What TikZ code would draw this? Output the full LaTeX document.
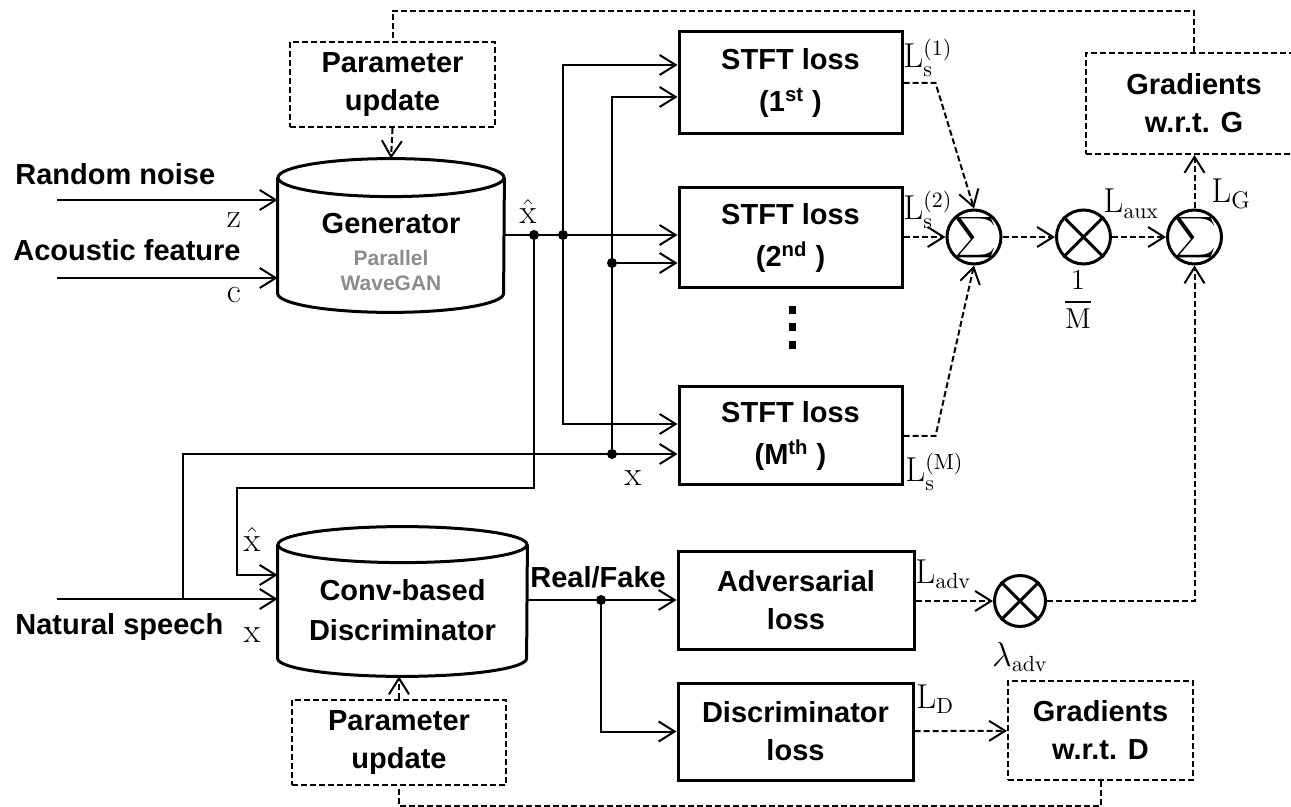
\documentclass[tikz,border=0pt]{standalone}
\usepackage[no-math]{fontspec}
\setmainfont{Liberation Sans}
\usepackage{amsmath}
\usetikzlibrary{arrows.meta}
\newcommand{\bfont}{\fontsize{14.5}{19}\selectfont\bfseries}
\newcommand{\sfont}{\fontsize{14.5}{21}\selectfont\bfseries}
\newcommand{\gfont}{\fontsize{10.5}{12.5}\selectfont\bfseries}
\newcommand{\mfont}{\fontsize{16}{18}\selectfont}
\tikzstyle{blk}=[rectangle, draw=black, line width=1.5pt, align=center, inner sep=0pt, font=\bfont]
\tikzstyle{dblk}=[rectangle, draw=black, line width=1pt, dash pattern=on 3pt off 1.5pt, align=center, inner sep=0pt, font=\bfont]
\tikzstyle{drum}=[rectangle, inner sep=0pt]
\tikzstyle{txt}=[align=center, inner sep=0pt, font=\bfont]
\tikzstyle{op}=[circle, draw=black, line width=1.5pt, inner sep=0pt, minimum size=27pt]
\tikzstyle{dot}=[circle, inner sep=0pt, minimum size=5pt, fill=black]
\tikzstyle{sq}=[rectangle, inner sep=0pt, minimum width=3.5pt, minimum height=4pt, fill=black]
\tikzstyle{lbl}=[inner sep=0pt, font=\mfont]
\tikzstyle{conn}=[line width=1pt, -{Straight Barb[length=8pt,width=10pt]}]
\tikzstyle{dconn}=[conn, dash pattern=on 3pt off 1.5pt]

\begin{document}
\begin{tikzpicture}[x=0.5pt, y=-0.5pt]
      \useasboundingbox (0,0) rectangle (1291,807);

      \node[dblk, minimum width=102.5pt, minimum height=42.5pt] (pg) at (392.5,84.5) {Parameter\\update};
      \node[drum, minimum width=113pt, minimum height=76.5pt] (gen) at (391,235.5) {};
      \node[txt] (gent) at (391,224) {Generator};
      \node[txt, font=\gfont, text=black!45] (genw) at (391,270) {Parallel\\WaveGAN};

      \node[txt, anchor=west] (rn) at (15,174) {Random noise};
      \node[txt, anchor=west] (af) at (13,250) {Acoustic feature};
      \node[txt, anchor=west] (ns) at (15,627) {Natural speech};

      \node[blk, font=\sfont, minimum width=111.5pt, minimum height=51pt] (s1) at (790.5,83) {STFT loss\\(1\textsuperscript{st} )};
      \node[blk, font=\sfont, minimum width=111.5pt, minimum height=50pt] (s2) at (790.5,238) {STFT loss\\(2\textsuperscript{nd} )};
      \node[blk, font=\sfont, minimum width=111.5pt, minimum height=49pt] (sm) at (790.5,436) {STFT loss\\(M\textsuperscript{th} )};
      \node[sq] (v1) at (792,310) {};
      \node[sq] (v2) at (792,327) {};
      \node[sq] (v3) at (792,345) {};

      \node[op] (sum1) at (974,237) {};
      \node[op] (mul1) at (1083.5,237) {};
      \node[op] (sum2) at (1194.5,237) {};
      \node[lbl, font=\fontsize{14}{16}\selectfont] (sg1) at (975,238) {$\displaystyle\sum$};
      \node[lbl, font=\fontsize{14}{16}\selectfont] (sg2) at (1195.5,238) {$\displaystyle\sum$};
      \node[dblk, minimum width=108pt, minimum height=50.5pt] (gg) at (1194,103.5) {Gradients\\w.r.t. G};

      \node[drum, minimum width=124.5pt, minimum height=74.5pt] (disc) at (402.5,601.5) {};
      \node[txt, font=\fontsize{14.5}{20}\selectfont\bfseries] (disct) at (402.5,610) {Conv-based\\Discriminator};
      \node[dblk, minimum width=107pt, minimum height=42.5pt] (pd) at (399,742.5) {Parameter\\update};

      \node[blk, minimum width=118pt, minimum height=48.5pt] (adv) at (796,600.5) {Adversarial\\loss};
      \node[blk, minimum width=117.5pt, minimum height=48.5pt] (dl) at (795.5,731.5) {Discriminator\\loss};
      \node[op, minimum size=25.5pt] (mul2) at (1020,601) {};
      \node[dblk, minimum width=92.5pt, minimum height=49.5pt] (gd) at (1100.5,730.5) {Gradients\\w.r.t. D};
      \node[txt, anchor=west] (rf) at (530,577) {Real/Fake};

      \node[dot] (j1) at (534,235) {};
      \node[dot] (j2) at (563,235) {};
      \node[dot] (j3) at (612,263) {};
      \node[dot] (j4) at (612,454) {};
      \node[dot] (j5) at (601,600) {};
      \coordinate (zin) at (57,200);
      \coordinate (cin) at (57,278);
      \coordinate (nin) at (57,599);
      \coordinate (j0) at (183,599);
      \coordinate (hk) at (237,488);

      \node[lbl] (zl) at (234,220) {$\mathrm{z}$};
      \node[lbl] (cl) at (234,295) {$\mathrm{c}$};
      \node[lbl] (xh1) at (528,212) {$\hat{\mathrm{x}}$};
      \node[lbl] (xl1) at (633,478) {$\mathrm{x}$};
      \node[lbl] (xh2) at (252,540) {$\hat{\mathrm{x}}$};
      \node[lbl] (xl2) at (252,635) {$\mathrm{x}$};
      \node[lbl, anchor=base west] (ls1) at (903,68) {$\mathrm{L}_{\mathrm{s}}^{(1)}$};
      \node[lbl, anchor=base west] (ls2) at (903,220) {$\mathrm{L}_{\mathrm{s}}^{(2)}$};
      \node[lbl, anchor=base west] (lsm) at (905,482) {$\mathrm{L}_{\mathrm{s}}^{(\mathrm{M})}$};
      \node[lbl, anchor=base west] (lax) at (1103,213) {$\mathrm{L}_{\mathrm{aux}}$};
      \node[lbl, anchor=base west, font=\fontsize{18}{20}\selectfont] (lg) at (1211,203) {$\mathrm{L}_{\mathrm{G}}$};
      \node[lbl, anchor=base west] (lad) at (915,583) {$\mathrm{L}_{\mathrm{adv}}$};
      \node[lbl, anchor=base west] (ld) at (916,708) {$\mathrm{L}_{\mathrm{D}}$};
      \node[lbl] (lam) at (1020,657) {$\lambda_{\mathrm{adv}}$};
      \node[lbl, font=\fontsize{14}{16}\selectfont] (fm) at (1078,300) {$\displaystyle\frac{1}{\mathrm{M}}$};

      \draw[line width=1.5pt] ([yshift=-9.5pt]gen.north west) -- ([yshift=9.5pt]gen.south west)
            arc[start angle=180, end angle=360, x radius=56.5pt, y radius=9.5pt] -- ([yshift=-9.5pt]gen.north east);
      \draw[line width=1.5pt] ([yshift=-9.5pt]gen.north) ellipse [x radius=56.5pt, y radius=9.5pt];
      \draw[line width=1.5pt] ([yshift=-9pt]disc.north west) -- ([yshift=9pt]disc.south west)
            arc[start angle=180, end angle=360, x radius=62.25pt, y radius=9pt] -- ([yshift=-9pt]disc.north east);
      \draw[line width=1.5pt] ([yshift=-9pt]disc.north) ellipse [x radius=62.25pt, y radius=9pt];
      \draw[line width=1.5pt] (mul1.north west) -- (mul1.south east) (mul1.north east) -- (mul1.south west);
      \draw[line width=1.5pt] (mul2.north west) -- (mul2.south east) (mul2.north east) -- (mul2.south west);

      \draw[conn] (zin) -- (zin -| gen.west);
      \draw[conn] (cin) -- (cin -| gen.west);
      \draw[conn] (gen.east |- j2) -- (j2 -| s2.west);
      \draw[conn] (j2) |- ([yshift=9pt]s1.west);
      \draw[conn] (j4) |- ([yshift=-7pt]s1.west);
      \draw[conn] (j3) -- (j3 -| s2.west);
      \draw[conn] (j2) |- ([yshift=6pt]sm.west);
      \draw[conn] (j0) |- ([yshift=-9pt]sm.west);
      \draw[conn] (nin) -- (nin -| disc.west);
      \draw[conn] (j1) |- (hk) |- ([yshift=13.25pt]disc.west);
      \draw[conn] (disc.east |- j5) -- (j5 -| adv.west);
      \draw[conn] (j5) |- (dl.west);

      \draw[dconn] (pg.south) -- (gen.north);
      \draw[dconn] (pd.north) -- (pd.north |- disc.south);
      \draw[dconn] (s1.east) -- ++(32,0) -- (sum1.north);
      \draw[dconn] (s2.east |- sum1) -- (sum1.west);
      \draw[dconn] (sm.east) -- ++(32,0) -- (sum1.south);
      \draw[dconn] (sum1) -- (mul1);
      \draw[dconn] (mul1) -- (sum2);
      \draw[dconn] (sum2) -- (sum2 |- gg.south);
      \draw[dconn] (adv.east |- mul2) -- (mul2.west);
      \draw[dconn] (mul2.east) -| (sum2.south);
      \draw[dconn] (dl) -- (gd);
      \draw[dconn, -] (gg.north) -- ++(0,-41) -| (pg.north);
      \draw[dconn, -] (gd.south) -- ++(0,25) -| (pd.south);
    \end{tikzpicture}
\end{document}
